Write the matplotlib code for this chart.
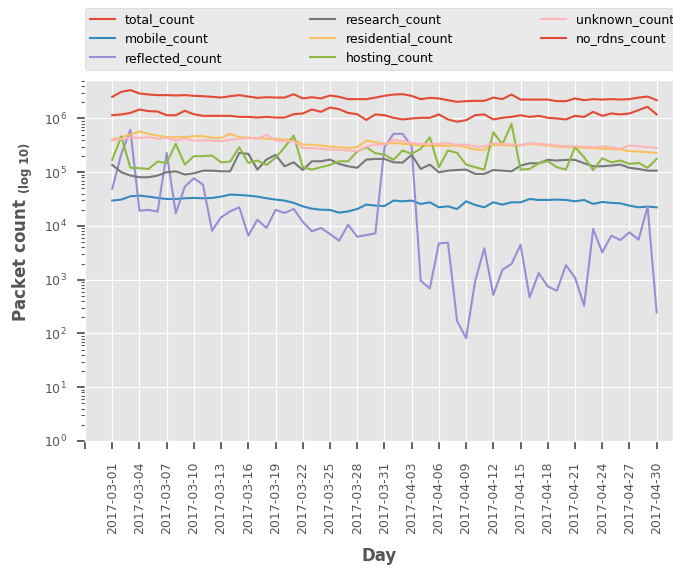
import numpy as np
import pandas as pd
import matplotlib
matplotlib.use('Agg')
import matplotlib.pyplot as plt

plt.style.use('ggplot')

days = list(pd.date_range('2017-03-01', '2017-04-30', freq='D').strftime('%Y-%m-%d'))

total_count = [2.53e6, 3.13e6, 3.37e6, 2.92e6, 2.79e6, 2.72e6, 2.72e6, 2.68e6, 2.72e6, 2.64e6,
               2.60e6, 2.53e6, 2.45e6, 2.60e6, 2.72e6, 2.56e6, 2.42e6, 2.49e6, 2.45e6, 2.45e6,
               2.83e6, 2.36e6, 2.49e6, 2.36e6, 2.68e6, 2.53e6, 2.29e6, 2.29e6, 2.29e6, 2.45e6,
               2.64e6, 2.79e6, 2.83e6, 2.63e6, 2.29e6, 2.42e6, 2.36e6, 2.19e6, 2.04e6, 2.10e6,
               2.13e6, 2.13e6, 2.45e6, 2.29e6, 2.79e6, 2.25e6, 2.25e6, 2.25e6, 2.25e6, 2.10e6,
               2.10e6, 2.36e6, 2.19e6, 2.29e6, 2.25e6, 2.29e6, 2.25e6, 2.29e6, 2.45e6, 2.56e6, 2.19e6]
mobile_count = [2.97e4, 3.10e4, 3.57e4, 3.67e4, 3.52e4, 3.33e4, 3.18e4, 3.18e4, 3.28e4, 3.33e4,
                3.28e4, 3.33e4, 3.52e4, 3.84e4, 3.78e4, 3.67e4, 3.52e4, 3.28e4, 3.10e4, 2.97e4,
                2.69e4, 2.32e4, 2.10e4, 2.01e4, 1.99e4, 1.77e4, 1.87e4, 2.07e4, 2.50e4, 2.39e4,
                2.35e4, 2.97e4, 2.88e4, 2.97e4, 2.57e4, 2.76e4, 2.23e4, 2.32e4, 2.07e4, 2.88e4,
                2.46e4, 2.23e4, 2.76e4, 2.50e4, 2.76e4, 2.76e4, 3.18e4, 3.05e4, 3.05e4, 3.10e4,
                3.05e4, 2.88e4, 3.05e4, 2.57e4, 2.80e4, 2.69e4, 2.64e4, 2.39e4, 2.23e4, 2.29e4, 2.23e4]
reflected_count = [4.89e4, 2.20e5, 6.15e5, 1.93e4, 1.99e4, 1.85e4, 2.29e5, 1.72e4, 5.41e4, 7.73e4,
                   5.89e4, 8.18e3, 1.45e4, 1.87e4, 2.23e4, 6.61e3, 1.31e4, 9.18e3, 1.99e4, 1.75e4,
                   2.07e4, 1.20e4, 7.96e3, 9.18e3, 7.10e3, 5.33e3, 1.06e4, 6.32e3, 6.79e3, 7.29e3,
                   2.92e5, 5.18e5, 5.18e5, 3.01e5, 957, 690, 4750, 4890, 172, 82,
                   957, 3840, 525, 1535, 1960, 4490, 469, 1330, 752, 624,
                   1875, 1100, 328, 8790, 3230, 6610, 5480, 7620, 5560, 2.29e4, 246]
research_count = [1.37e5, 1.00e5, 8.67e4, 8.07e4, 8.07e4, 8.67e4, 1.00e5, 1.04e5, 9.06e4, 9.57e4,
                  1.07e5, 1.07e5, 1.04e5, 1.04e5, 2.29e5, 2.20e5, 1.12e5, 1.72e5, 2.10e5, 1.29e5,
                  1.53e5, 1.10e5, 1.60e5, 1.60e5, 1.72e5, 1.43e5, 1.29e5, 1.21e5, 1.72e5, 1.77e5,
                  1.77e5, 1.53e5, 1.51e5, 2.10e5, 1.15e5, 1.39e5, 1.00e5, 1.07e5, 1.10e5, 1.12e5,
                  9.31e4, 9.31e4, 1.10e5, 1.07e5, 1.04e5, 1.33e5, 1.47e5, 1.47e5, 1.70e5, 1.65e5,
                  1.70e5, 1.70e5, 1.47e5, 1.29e5, 1.29e5, 1.33e5, 1.39e5, 1.21e5, 1.15e5, 1.07e5, 1.07e5]
residential_count = [4.06e5, 4.49e5, 5.04e5, 5.73e5, 5.18e5, 4.82e5, 4.49e5, 4.49e5, 4.49e5, 4.69e5,
                     4.69e5, 4.37e5, 4.37e5, 5.18e5, 4.49e5, 4.37e5, 4.31e5, 4.18e5, 4.18e5, 4.06e5,
                     4.06e5, 3.28e5, 3.23e5, 3.14e5, 3.01e5, 2.92e5, 2.84e5, 2.92e5, 3.89e5, 3.62e5,
                     3.37e5, 3.52e5, 3.37e5, 3.28e5, 3.14e5, 3.10e5, 3.10e5, 3.10e5, 3.14e5, 2.92e5,
                     2.64e5, 2.61e5, 3.23e5, 3.23e5, 3.14e5, 3.14e5, 3.37e5, 3.28e5, 3.14e5, 3.01e5,
                     2.92e5, 2.92e5, 2.84e5, 2.80e5, 2.72e5, 2.72e5, 2.64e5, 2.46e5, 2.43e5, 2.36e5, 2.29e5]
hosting_count = [1.70e5, 4.62e5, 1.21e5, 1.19e5, 1.15e5, 1.58e5, 1.49e5, 3.37e5, 1.39e5, 1.99e5,
                 1.99e5, 2.05e5, 1.53e5, 1.58e5, 2.92e5, 1.49e5, 1.65e5, 1.37e5, 1.85e5, 2.92e5,
                 4.82e5, 1.24e5, 1.12e5, 1.24e5, 1.37e5, 1.60e5, 1.60e5, 2.43e5, 2.92e5, 2.26e5,
                 2.14e5, 1.70e5, 2.54e5, 2.20e5, 2.72e5, 4.49e5, 1.24e5, 2.54e5, 2.29e5, 1.39e5,
                 1.24e5, 1.12e5, 5.56e5, 3.28e5, 7.94e5, 1.12e5, 1.15e5, 1.47e5, 1.60e5, 1.24e5,
                 1.12e5, 2.92e5, 1.91e5, 1.10e5, 1.82e5, 1.53e5, 1.65e5, 1.43e5, 1.49e5, 1.21e5, 1.77e5]
unknown_count = [3.89e5, 4.18e5, 4.37e5, 4.37e5, 4.49e5, 4.18e5, 4.37e5, 3.89e5, 4.18e5, 3.89e5,
                 3.89e5, 3.89e5, 3.78e5, 4.00e5, 4.18e5, 4.37e5, 4.18e5, 4.97e5, 3.89e5, 3.78e5,
                 3.78e5, 2.84e5, 2.80e5, 2.72e5, 2.64e5, 2.61e5, 2.54e5, 2.46e5, 3.01e5, 3.28e5,
                 3.28e5, 4.00e5, 3.78e5, 3.52e5, 3.37e5, 3.37e5, 3.37e5, 3.47e5, 3.23e5, 3.28e5,
                 3.01e5, 3.01e5, 3.47e5, 3.37e5, 3.28e5, 3.23e5, 3.47e5, 3.37e5, 3.28e5, 3.14e5,
                 3.01e5, 3.05e5, 3.01e5, 2.92e5, 3.01e5, 2.92e5, 2.72e5, 3.14e5, 3.05e5, 2.92e5, 2.84e5]
no_rdns_count = [1.15e6, 1.19e6, 1.27e6, 1.47e6, 1.37e6, 1.35e6, 1.15e6, 1.15e6, 1.39e6, 1.20e6,
                 1.12e6, 1.12e6, 1.12e6, 1.12e6, 1.07e6, 1.07e6, 1.04e6, 1.07e6, 1.04e6, 1.04e6,
                 1.20e6, 1.24e6, 1.47e6, 1.33e6, 1.60e6, 1.49e6, 1.27e6, 1.20e6, 0.94e6, 1.19e6,
                 1.15e6, 1.03e6, 0.96e6, 1.00e6, 1.03e6, 1.03e6, 1.19e6, 0.96e6, 0.87e6, 0.93e6,
                 1.15e6, 1.19e6, 0.96e6, 1.03e6, 1.07e6, 1.15e6, 1.07e6, 1.12e6, 1.03e6, 1.00e6,
                 0.96e6, 1.12e6, 1.07e6, 1.33e6, 1.12e6, 1.24e6, 1.19e6, 1.24e6, 1.43e6, 1.65e6, 1.19e6]

df = pd.DataFrame({
    'total_count': total_count,
    'mobile_count': mobile_count,
    'reflected_count': reflected_count,
    'research_count': research_count,
    'residential_count': residential_count,
    'hosting_count': hosting_count,
    'unknown_count': unknown_count,
    'no_rdns_count': no_rdns_count,
}, index=days)

fig = plt.figure(figsize=(6.73, 5.65), dpi=100)
ax = fig.add_axes([85 / 673, 1 - 441 / 565, 588 / 673, 361 / 565])

x = np.arange(len(days))
for col in df.columns:
    ax.plot(x, df[col].values, lw=1.5, label=col)

ax.set_yscale('log')
ax.set_ylim(1, 5.2e6)
ax.set_xlim(-3, 61.8)

# 每3天一个刻度, 最左边空一个
ax.set_xticks(np.arange(-3, len(days), 3))
ax.set_xticklabels([''] + days[::3], rotation=90)
ax.tick_params(axis='both', which='major', length=6, width=1.3, labelsize=9)
ax.tick_params(axis='x', which='major', pad=9)
ax.tick_params(axis='y', which='major', pad=7)
ax.tick_params(axis='y', which='minor', length=3, width=0.8)

ax.set_xlabel('Day', fontweight='bold', fontsize=12, labelpad=9)
ax.set_ylabel(r'Packet count $_{\mathbf{(log\ 10)}}$', fontweight='bold', fontsize=12)
ax.yaxis.set_label_coords(-0.085, 0.579)

ax.legend(loc='upper left', bbox_to_anchor=(0, 1.199, 1.01, 0), mode='expand',
          borderaxespad=0, ncol=3, fontsize=9, labelspacing=0.5)

fig.savefig('out.png', dpi=100)
